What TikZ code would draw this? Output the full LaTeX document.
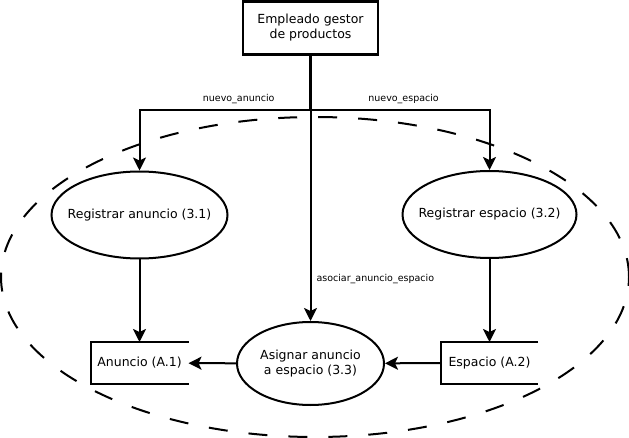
\documentclass[tikz,border=0pt]{standalone}
\usepackage{fontspec}
\setmainfont{DejaVu Sans}
\usetikzlibrary{arrows.meta,shapes.geometric,positioning}

\begin{document}
\begin{tikzpicture}[x=1pt,y=-1pt,line width=2pt,>={Stealth[length=13pt,width=13pt,inset=3pt]}]
\tikzstyle{proc}=[ellipse,draw,inner sep=0pt,align=center,font=\fontsize{12.5}{15}\selectfont]
\tikzstyle{store}=[inner sep=0pt,minimum width=96pt,minimum height=40pt,font=\fontsize{12.5}{15}\selectfont]
\tikzstyle{flowlabel}=[inner sep=2pt,font=\fontsize{9.5}{11}\selectfont]

\useasboundingbox (0,0) rectangle (629,438);

% limite del sistema
\draw[dash pattern=on 19pt off 21pt] (315,277) ellipse [x radius=314pt, y radius=160pt];

\node[draw,line width=2.5pt,minimum width=135pt,minimum height=53pt,align=center,font=\fontsize{12.5}{15}\selectfont] (emp) at (310.5,28) {Empleado gestor\\de productos};
\node[proc,inner xsep=-10pt,minimum width=176pt,minimum height=87pt] (regan) at (139.5,215) {Registrar anuncio (3.1)};
\node[proc,inner xsep=-10pt,minimum width=174pt,minimum height=87pt] (reges) at (489.5,214.5) {Registrar espacio (3.2)};
\node[proc,minimum width=147pt,minimum height=83pt] (asig) at (310.5,363.5) {Asignar anuncio\\a espacio (3.3)};
\node[store] (anun) at (139.5,363) {Anuncio (A.1)};
\node[store,minimum width=95pt] (espa) at (489.5,363) {Espacio (A.2)};
\coordinate (split) at (310.5,110);

% almacenes
\draw (anun.north east) -- (anun.north west) -- (anun.south west) -- (anun.south east);
\draw (espa.north east) -- (espa.north west) -- (espa.south west) -- (espa.south east);

% flujos
\draw[line width=2.6pt] (emp) -- (split);
\draw[->] (split) -| node[flowlabel,pos=0.21,above=3pt] {nuevo\_anuncio} (regan);
\draw[->] (split) -| node[flowlabel,pos=0.26,above=3pt] {nuevo\_espacio} (reges);
\draw[->] (emp) -- node[flowlabel,pos=0.84,right=3pt] {asociar\_anuncio\_espacio} (asig);
\draw[->] (regan) -- (anun);
\draw[->] (reges) -- (espa);
\draw[->] (asig) -- (anun);
\draw[->] (espa) -- (asig);

\end{tikzpicture}
\end{document}
